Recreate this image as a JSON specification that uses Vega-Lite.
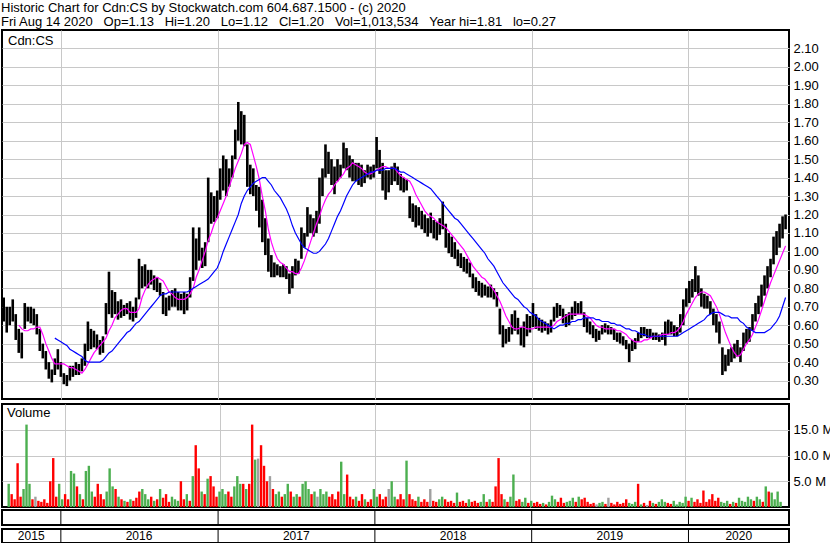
{
"$schema":"https://vega.github.io/schema/vega-lite/v6.json",
"background":"white",
"padding":{"left":1,"top":2,"right":0,"bottom":0},
"title":{"text":["Historic Chart for Cdn:CS by Stockwatch.com 604.687.1500 - (c) 2020","Fri Aug 14 2020\u00a0\u00a0\u00a0Op=1.13\u00a0\u00a0\u00a0Hi=1.20\u00a0\u00a0\u00a0Lo=1.12\u00a0\u00a0\u00a0Cl=1.20\u00a0\u00a0\u00a0Vol=1,013,534\u00a0\u00a0\u00a0Year hi=1.81\u00a0\u00a0\u00a0lo=0.27"],"anchor":"start","font":"Liberation Sans","fontSize":13,"fontWeight":"normal","color":"black","lineHeight":14,"offset":0,"frame":"bounds"},
"datasets":{
"yb":[{"d":"2016-01-01"},{"d":"2017-01-01"},{"d":"2018-01-01"},{"d":"2019-01-01"},{"d":"2020-01-01"}],
"yl":[{"d":"2015-10-24","t":"2015"},{"d":"2016-07-01","t":"2016"},{"d":"2017-07-02","t":"2017"},{"d":"2018-07-02","t":"2018"},{"d":"2019-07-02","t":"2019"},{"d":"2020-04-27","t":"2020"}],
"p":[
{"d":"2015-08-21","h":0.75,"l":0.62,"v":4.5,"s":"u"},
{"d":"2015-08-28","h":0.70,"l":0.56,"v":2.5,"s":"d"},
{"d":"2015-09-04","h":0.70,"l":0.60,"v":1.5,"s":"d"},
{"d":"2015-09-11","h":0.74,"l":0.62,"v":8.5,"s":"d"},
{"d":"2015-09-18","h":0.66,"l":0.52,"v":2.0,"s":"d"},
{"d":"2015-09-25","h":0.58,"l":0.45,"v":3.5,"s":"u","m1":0.60},
{"d":"2015-10-02","h":0.56,"l":0.42,"v":16,"s":"u","m1":0.58},
{"d":"2015-10-09","h":0.72,"l":0.58,"v":4.5,"s":"u","m1":0.57},
{"d":"2015-10-16","h":0.70,"l":0.62,"v":1.5,"s":"d","m1":0.57},
{"d":"2015-10-23","h":0.70,"l":0.61,"v":2.0,"s":"n","m1":0.58},
{"d":"2015-10-30","h":0.69,"l":0.60,"v":1.2,"s":"d","m1":0.58},
{"d":"2015-11-06","h":0.66,"l":0.55,"v":1.0,"s":"d","m1":0.59},
{"d":"2015-11-13","h":0.58,"l":0.46,"v":1.5,"s":"d","m1":0.59},
{"d":"2015-11-20","h":0.50,"l":0.42,"v":0.8,"s":"d","m1":0.55},
{"d":"2015-11-27","h":0.46,"l":0.36,"v":5.0,"s":"d","m1":0.50},
{"d":"2015-12-04","h":0.40,"l":0.31,"v":9.5,"s":"d","m1":0.46},
{"d":"2015-12-11","h":0.36,"l":0.29,"v":2.0,"s":"d","m1":0.42},
{"d":"2015-12-18","h":0.42,"l":0.33,"v":4.5,"s":"u","m1":0.39,"m2":0.53},
{"d":"2015-12-25","h":0.47,"l":0.36,"v":1.5,"s":"u","m1":0.39,"m2":0.52},
{"d":"2016-01-01","h":0.40,"l":0.32,"v":2.5,"s":"d","m1":0.39,"m2":0.51},
{"d":"2016-01-08","h":0.34,"l":0.28,"v":1.5,"s":"d","m1":0.39,"m2":0.50},
{"d":"2016-01-15","h":0.33,"l":0.27,"v":7.0,"s":"u","m1":0.38,"m2":0.49},
{"d":"2016-01-22","h":0.38,"l":0.30,"v":6.5,"s":"u","m1":0.37,"m2":0.47},
{"d":"2016-01-29","h":0.38,"l":0.32,"v":4.0,"s":"d","m1":0.37,"m2":0.46},
{"d":"2016-02-05","h":0.40,"l":0.33,"v":2.5,"s":"u","m1":0.36,"m2":0.45},
{"d":"2016-02-12","h":0.39,"l":0.33,"v":1.5,"s":"d","m1":0.35,"m2":0.44},
{"d":"2016-02-19","h":0.42,"l":0.35,"v":7.0,"s":"u","m1":0.34,"m2":0.43},
{"d":"2016-02-26","h":0.50,"l":0.38,"v":8.0,"s":"u","m1":0.36,"m2":0.41},
{"d":"2016-03-04","h":0.62,"l":0.46,"v":3.0,"s":"u","m1":0.39,"m2":0.40},
{"d":"2016-03-11","h":0.58,"l":0.47,"v":2.0,"s":"d","m1":0.42,"m2":0.40},
{"d":"2016-03-18","h":0.57,"l":0.48,"v":4.5,"s":"d","m1":0.45,"m2":0.40},
{"d":"2016-03-25","h":0.55,"l":0.47,"v":2.5,"s":"d","m1":0.47,"m2":0.40},
{"d":"2016-04-01","h":0.52,"l":0.44,"v":1.5,"s":"d","m1":0.49,"m2":0.40},
{"d":"2016-04-08","h":0.54,"l":0.45,"v":3.0,"s":"u","m1":0.51,"m2":0.41},
{"d":"2016-04-15","h":0.72,"l":0.55,"v":7.5,"s":"u","m1":0.53,"m2":0.43},
{"d":"2016-04-22","h":0.89,"l":0.66,"v":4.0,"s":"u","m1":0.57,"m2":0.45},
{"d":"2016-04-29","h":0.79,"l":0.64,"v":3.5,"s":"d","m1":0.60,"m2":0.46},
{"d":"2016-05-06","h":0.78,"l":0.66,"v":2.0,"s":"u","m1":0.64,"m2":0.48},
{"d":"2016-05-13","h":0.73,"l":0.63,"v":1.5,"s":"d","m1":0.66,"m2":0.50},
{"d":"2016-05-20","h":0.74,"l":0.64,"v":1.2,"s":"u","m1":0.68,"m2":0.52},
{"d":"2016-05-27","h":0.71,"l":0.65,"v":1.0,"s":"d","m1":0.69,"m2":0.54},
{"d":"2016-06-03","h":0.72,"l":0.66,"v":1.5,"s":"u","m1":0.69,"m2":0.56},
{"d":"2016-06-10","h":0.73,"l":0.63,"v":1.2,"s":"d","m1":0.67,"m2":0.57},
{"d":"2016-06-17","h":0.70,"l":0.62,"v":1.8,"s":"d","m1":0.67,"m2":0.59},
{"d":"2016-06-24","h":0.75,"l":0.64,"v":3.0,"s":"d","m1":0.67,"m2":0.61},
{"d":"2016-07-01","h":0.96,"l":0.74,"v":3.5,"s":"u","m1":0.69,"m2":0.62},
{"d":"2016-07-08","h":0.92,"l":0.80,"v":2.5,"s":"u","m1":0.75,"m2":0.64},
{"d":"2016-07-15","h":0.93,"l":0.81,"v":1.5,"s":"u","m1":0.79,"m2":0.66},
{"d":"2016-07-22","h":0.90,"l":0.80,"v":2.0,"s":"d","m1":0.82,"m2":0.68},
{"d":"2016-07-29","h":0.90,"l":0.82,"v":1.2,"s":"u","m1":0.84,"m2":0.70},
{"d":"2016-08-05","h":0.87,"l":0.79,"v":1.5,"s":"d","m1":0.85,"m2":0.72},
{"d":"2016-08-12","h":0.86,"l":0.78,"v":3.5,"s":"u","m1":0.86,"m2":0.74},
{"d":"2016-08-19","h":0.83,"l":0.76,"v":1.8,"s":"d","m1":0.85,"m2":0.76},
{"d":"2016-08-26","h":0.78,"l":0.66,"v":2.5,"s":"d","m1":0.84,"m2":0.77},
{"d":"2016-09-02","h":0.75,"l":0.65,"v":1.0,"s":"d","m1":0.81,"m2":0.77},
{"d":"2016-09-09","h":0.76,"l":0.68,"v":2.0,"s":"u","m1":0.78,"m2":0.78},
{"d":"2016-09-16","h":0.79,"l":0.70,"v":1.5,"s":"u","m1":0.77,"m2":0.78},
{"d":"2016-09-23","h":0.80,"l":0.70,"v":1.2,"s":"u","m1":0.75,"m2":0.78},
{"d":"2016-09-30","h":0.78,"l":0.68,"v":5.0,"s":"d","m1":0.74,"m2":0.78},
{"d":"2016-10-07","h":0.77,"l":0.68,"v":1.5,"s":"d","m1":0.74,"m2":0.78},
{"d":"2016-10-14","h":0.78,"l":0.66,"v":2.5,"s":"u","m1":0.74,"m2":0.78},
{"d":"2016-10-21","h":0.77,"l":0.68,"v":1.2,"s":"d","m1":0.75,"m2":0.78},
{"d":"2016-10-28","h":0.86,"l":0.75,"v":6.0,"s":"u","m1":0.77,"m2":0.79},
{"d":"2016-11-04","h":1.13,"l":0.84,"v":12,"s":"d","m1":0.80,"m2":0.80},
{"d":"2016-11-11","h":1.07,"l":0.90,"v":7.5,"s":"d","m1":0.86,"m2":0.81},
{"d":"2016-11-18","h":1.13,"l":0.95,"v":3.0,"s":"u","m1":0.90,"m2":0.82},
{"d":"2016-11-25","h":1.02,"l":0.91,"v":2.5,"s":"d","m1":0.95,"m2":0.83},
{"d":"2016-12-02","h":1.05,"l":0.92,"v":5.5,"s":"u","m1":1.00,"m2":0.84},
{"d":"2016-12-09","h":1.40,"l":1.05,"v":6.0,"s":"d","m1":1.06,"m2":0.85},
{"d":"2016-12-16","h":1.32,"l":1.15,"v":4.0,"s":"d","m1":1.10,"m2":0.87},
{"d":"2016-12-23","h":1.30,"l":1.16,"v":2.0,"s":"d","m1":1.15,"m2":0.89},
{"d":"2016-12-30","h":1.33,"l":1.18,"v":3.0,"s":"u","m1":1.18,"m2":0.91},
{"d":"2017-01-06","h":1.45,"l":1.28,"v":3.5,"s":"u","m1":1.22,"m2":0.95},
{"d":"2017-01-13","h":1.52,"l":1.33,"v":2.5,"s":"u","m1":1.26,"m2":1.00},
{"d":"2017-01-20","h":1.50,"l":1.30,"v":3.0,"s":"d","m1":1.30,"m2":1.04},
{"d":"2017-01-27","h":1.45,"l":1.35,"v":2.0,"s":"d","m1":1.35,"m2":1.08},
{"d":"2017-02-03","h":1.52,"l":1.40,"v":4.0,"s":"u","m1":1.40,"m2":1.12},
{"d":"2017-02-10","h":1.66,"l":1.50,"v":6.0,"s":"u","m1":1.45,"m2":1.16},
{"d":"2017-02-17","h":1.81,"l":1.60,"v":4.5,"s":"u","m1":1.49,"m2":1.20},
{"d":"2017-02-24","h":1.76,"l":1.58,"v":4.5,"s":"d","m1":1.53,"m2":1.26},
{"d":"2017-03-03","h":1.74,"l":1.57,"v":3.5,"s":"u","m1":1.58,"m2":1.30},
{"d":"2017-03-10","h":1.58,"l":1.35,"v":4.5,"s":"d","m1":1.59,"m2":1.33},
{"d":"2017-03-17","h":1.47,"l":1.31,"v":16,"s":"d","m1":1.58,"m2":1.35},
{"d":"2017-03-24","h":1.45,"l":1.30,"v":9.2,"s":"u","m1":1.52,"m2":1.37},
{"d":"2017-03-31","h":1.36,"l":1.22,"v":9.4,"s":"n","m1":1.46,"m2":1.38},
{"d":"2017-04-07","h":1.35,"l":1.13,"v":12,"s":"d","m1":1.39,"m2":1.39},
{"d":"2017-04-14","h":1.28,"l":1.05,"v":8.0,"s":"d","m1":1.30,"m2":1.40},
{"d":"2017-04-21","h":1.18,"l":0.98,"v":5.0,"s":"d","m1":1.22,"m2":1.40},
{"d":"2017-04-28","h":1.07,"l":0.89,"v":6.0,"s":"n","m1":1.12,"m2":1.38},
{"d":"2017-05-05","h":0.98,"l":0.86,"v":3.5,"s":"d","m1":1.05,"m2":1.36},
{"d":"2017-05-12","h":0.94,"l":0.86,"v":2.5,"s":"u","m1":1.00,"m2":1.33},
{"d":"2017-05-19","h":0.93,"l":0.87,"v":3.0,"s":"u","m1":0.96,"m2":1.31},
{"d":"2017-05-26","h":0.92,"l":0.86,"v":2.0,"s":"d","m1":0.94,"m2":1.29},
{"d":"2017-06-02","h":0.93,"l":0.86,"v":2.5,"s":"u","m1":0.93,"m2":1.26},
{"d":"2017-06-09","h":0.92,"l":0.85,"v":4.5,"s":"u","m1":0.91,"m2":1.23},
{"d":"2017-06-16","h":0.88,"l":0.77,"v":3.0,"s":"d","m1":0.89,"m2":1.19},
{"d":"2017-06-23","h":0.92,"l":0.80,"v":2.0,"s":"u","m1":0.89,"m2":1.14},
{"d":"2017-06-30","h":0.96,"l":0.87,"v":2.5,"s":"u","m1":0.88,"m2":1.10},
{"d":"2017-07-07","h":0.95,"l":0.88,"v":2.0,"s":"d","m1":0.88,"m2":1.07},
{"d":"2017-07-14","h":1.13,"l":0.96,"v":4.5,"s":"u","m1":0.91,"m2":1.04},
{"d":"2017-07-21","h":1.10,"l":1.02,"v":5.0,"s":"u","m1":0.95,"m2":1.02},
{"d":"2017-07-28","h":1.24,"l":1.08,"v":3.5,"s":"u","m1":1.00,"m2":1.01},
{"d":"2017-08-04","h":1.20,"l":1.10,"v":2.5,"s":"d","m1":1.05,"m2":1.00},
{"d":"2017-08-11","h":1.18,"l":1.08,"v":3.0,"s":"u","m1":1.10,"m2":0.99},
{"d":"2017-08-18","h":1.22,"l":1.10,"v":2.0,"s":"n","m1":1.15,"m2":0.99},
{"d":"2017-08-25","h":1.40,"l":1.15,"v":3.5,"s":"u","m1":1.19,"m2":1.00},
{"d":"2017-09-01","h":1.45,"l":1.30,"v":2.5,"s":"u","m1":1.24,"m2":1.02},
{"d":"2017-09-08","h":1.58,"l":1.40,"v":3.0,"s":"u","m1":1.28,"m2":1.04},
{"d":"2017-09-15","h":1.54,"l":1.42,"v":2.0,"s":"d","m1":1.31,"m2":1.07},
{"d":"2017-09-22","h":1.50,"l":1.36,"v":2.5,"s":"d","m1":1.33,"m2":1.11},
{"d":"2017-09-29","h":1.46,"l":1.31,"v":1.5,"s":"d","m1":1.36,"m2":1.15},
{"d":"2017-10-06","h":1.50,"l":1.38,"v":3.0,"s":"d","m1":1.38,"m2":1.19},
{"d":"2017-10-13","h":1.47,"l":1.40,"v":8.8,"s":"u","m1":1.40,"m2":1.22},
{"d":"2017-10-20","h":1.59,"l":1.45,"v":2.5,"s":"u","m1":1.42,"m2":1.26},
{"d":"2017-10-27","h":1.56,"l":1.44,"v":6.3,"s":"d","m1":1.45,"m2":1.30},
{"d":"2017-11-03","h":1.52,"l":1.40,"v":2.0,"s":"d","m1":1.46,"m2":1.33},
{"d":"2017-11-10","h":1.50,"l":1.38,"v":1.5,"s":"d","m1":1.48,"m2":1.36},
{"d":"2017-11-17","h":1.48,"l":1.38,"v":2.0,"s":"u","m1":1.47,"m2":1.38},
{"d":"2017-11-24","h":1.48,"l":1.36,"v":1.2,"s":"d","m1":1.46,"m2":1.39},
{"d":"2017-12-01","h":1.47,"l":1.35,"v":2.5,"s":"d","m1":1.45,"m2":1.40},
{"d":"2017-12-08","h":1.44,"l":1.37,"v":1.5,"s":"u","m1":1.43,"m2":1.41},
{"d":"2017-12-15","h":1.47,"l":1.40,"v":1.0,"s":"d","m1":1.42,"m2":1.42},
{"d":"2017-12-22","h":1.46,"l":1.39,"v":1.5,"s":"d","m1":1.42,"m2":1.43},
{"d":"2017-12-29","h":1.47,"l":1.40,"v":3.5,"s":"u","m1":1.43,"m2":1.43},
{"d":"2018-01-05","h":1.62,"l":1.45,"v":2.0,"s":"u","m1":1.44,"m2":1.44},
{"d":"2018-01-12","h":1.55,"l":1.42,"v":2.5,"s":"d","m1":1.45,"m2":1.44},
{"d":"2018-01-19","h":1.48,"l":1.33,"v":1.5,"s":"d","m1":1.46,"m2":1.44},
{"d":"2018-01-26","h":1.44,"l":1.28,"v":2.0,"s":"d","m1":1.46,"m2":1.45},
{"d":"2018-02-02","h":1.44,"l":1.32,"v":3.5,"s":"n","m1":1.45,"m2":1.45},
{"d":"2018-02-09","h":1.46,"l":1.36,"v":5.0,"s":"u","m1":1.45,"m2":1.45},
{"d":"2018-02-16","h":1.48,"l":1.38,"v":2.0,"s":"u","m1":1.45,"m2":1.45},
{"d":"2018-02-23","h":1.46,"l":1.36,"v":1.5,"s":"d","m1":1.43,"m2":1.44},
{"d":"2018-03-02","h":1.42,"l":1.33,"v":2.5,"s":"d","m1":1.41,"m2":1.43},
{"d":"2018-03-09","h":1.40,"l":1.32,"v":1.5,"s":"d","m1":1.40,"m2":1.43},
{"d":"2018-03-16","h":1.39,"l":1.33,"v":9.0,"s":"u","m1":1.39,"m2":1.42},
{"d":"2018-03-23","h":1.30,"l":1.18,"v":2.5,"s":"d","m1":1.38,"m2":1.41},
{"d":"2018-03-30","h":1.26,"l":1.16,"v":1.5,"s":"d","m1":1.35,"m2":1.40},
{"d":"2018-04-06","h":1.25,"l":1.13,"v":1.2,"s":"d","m1":1.31,"m2":1.39},
{"d":"2018-04-13","h":1.24,"l":1.14,"v":2.0,"s":"u","m1":1.28,"m2":1.38},
{"d":"2018-04-20","h":1.22,"l":1.12,"v":1.0,"s":"d","m1":1.25,"m2":1.37},
{"d":"2018-04-27","h":1.20,"l":1.10,"v":1.5,"s":"d","m1":1.22,"m2":1.36},
{"d":"2018-05-04","h":1.18,"l":1.08,"v":1.0,"s":"d","m1":1.20,"m2":1.35},
{"d":"2018-05-11","h":1.21,"l":1.10,"v":3.5,"s":"n","m1":1.19,"m2":1.34},
{"d":"2018-05-18","h":1.17,"l":1.07,"v":1.2,"s":"d","m1":1.18,"m2":1.32},
{"d":"2018-05-25","h":1.16,"l":1.06,"v":1.0,"s":"d","m1":1.16,"m2":1.30},
{"d":"2018-06-01","h":1.18,"l":1.09,"v":1.5,"s":"u","m1":1.15,"m2":1.28},
{"d":"2018-06-08","h":1.27,"l":1.12,"v":2.0,"s":"u","m1":1.14,"m2":1.26},
{"d":"2018-06-15","h":1.15,"l":1.02,"v":1.5,"s":"d","m1":1.13,"m2":1.24},
{"d":"2018-06-22","h":1.10,"l":0.99,"v":1.0,"s":"d","m1":1.11,"m2":1.22},
{"d":"2018-06-29","h":1.08,"l":0.97,"v":1.2,"s":"d","m1":1.09,"m2":1.20},
{"d":"2018-07-06","h":1.05,"l":0.96,"v":0.8,"s":"d","m1":1.07,"m2":1.18},
{"d":"2018-07-13","h":1.01,"l":0.92,"v":2.8,"s":"u","m1":1.05,"m2":1.17},
{"d":"2018-07-20","h":0.99,"l":0.91,"v":1.0,"s":"d","m1":1.03,"m2":1.15},
{"d":"2018-07-27","h":0.97,"l":0.89,"v":1.2,"s":"d","m1":1.01,"m2":1.13},
{"d":"2018-08-03","h":0.96,"l":0.88,"v":0.8,"s":"d","m1":0.98,"m2":1.11},
{"d":"2018-08-10","h":0.94,"l":0.86,"v":1.5,"s":"u","m1":0.95,"m2":1.09},
{"d":"2018-08-17","h":0.88,"l":0.80,"v":1.0,"s":"d","m1":0.92,"m2":1.07},
{"d":"2018-08-24","h":0.86,"l":0.78,"v":1.2,"s":"d","m1":0.90,"m2":1.05},
{"d":"2018-08-31","h":0.84,"l":0.76,"v":0.8,"s":"d","m1":0.88,"m2":1.03},
{"d":"2018-09-07","h":0.83,"l":0.75,"v":1.0,"s":"u","m1":0.86,"m2":1.01},
{"d":"2018-09-14","h":0.82,"l":0.76,"v":2.5,"s":"u","m1":0.85,"m2":0.99},
{"d":"2018-09-21","h":0.81,"l":0.75,"v":1.0,"s":"d","m1":0.83,"m2":0.96},
{"d":"2018-09-28","h":0.82,"l":0.75,"v":1.5,"s":"u","m1":0.81,"m2":0.94},
{"d":"2018-10-05","h":0.80,"l":0.74,"v":1.0,"s":"d","m1":0.79,"m2":0.92},
{"d":"2018-10-12","h":0.78,"l":0.70,"v":4.0,"s":"d","m1":0.76,"m2":0.89},
{"d":"2018-10-19","h":0.69,"l":0.55,"v":9.5,"s":"d","m1":0.73,"m2":0.86},
{"d":"2018-10-26","h":0.60,"l":0.48,"v":2.5,"s":"d","m1":0.69,"m2":0.83},
{"d":"2018-11-02","h":0.58,"l":0.50,"v":1.5,"s":"u","m1":0.65,"m2":0.81},
{"d":"2018-11-09","h":0.59,"l":0.51,"v":1.0,"s":"d","m1":0.62,"m2":0.79},
{"d":"2018-11-16","h":0.66,"l":0.55,"v":2.0,"s":"u","m1":0.59,"m2":0.77},
{"d":"2018-11-23","h":0.68,"l":0.57,"v":6.3,"s":"u","m1":0.58,"m2":0.75},
{"d":"2018-11-30","h":0.64,"l":0.55,"v":1.2,"s":"d","m1":0.58,"m2":0.74},
{"d":"2018-12-07","h":0.59,"l":0.49,"v":1.5,"s":"d","m1":0.59,"m2":0.72},
{"d":"2018-12-14","h":0.62,"l":0.48,"v":1.0,"s":"u","m1":0.59,"m2":0.70},
{"d":"2018-12-21","h":0.66,"l":0.54,"v":1.8,"s":"u","m1":0.58,"m2":0.69},
{"d":"2018-12-28","h":0.65,"l":0.56,"v":0.8,"s":"d","m1":0.58,"m2":0.67},
{"d":"2019-01-04","h":0.72,"l":0.59,"v":1.2,"s":"u","m1":0.58,"m2":0.66},
{"d":"2019-01-11","h":0.66,"l":0.58,"v":0.8,"s":"d","m1":0.59,"m2":0.65},
{"d":"2019-01-18","h":0.64,"l":0.57,"v":1.0,"s":"d","m1":0.59,"m2":0.63},
{"d":"2019-01-25","h":0.63,"l":0.56,"v":0.6,"s":"d","m1":0.59,"m2":0.62},
{"d":"2019-02-01","h":0.62,"l":0.57,"v":0.8,"s":"u","m1":0.59,"m2":0.61},
{"d":"2019-02-08","h":0.61,"l":0.55,"v":0.5,"s":"d","m1":0.59,"m2":0.60},
{"d":"2019-02-15","h":0.63,"l":0.56,"v":1.0,"s":"u","m1":0.59,"m2":0.59},
{"d":"2019-02-22","h":0.70,"l":0.62,"v":2.2,"s":"u","m1":0.60,"m2":0.58},
{"d":"2019-03-01","h":0.72,"l":0.64,"v":1.5,"s":"u","m1":0.62,"m2":0.59},
{"d":"2019-03-08","h":0.71,"l":0.65,"v":1.0,"s":"d","m1":0.63,"m2":0.60},
{"d":"2019-03-15","h":0.69,"l":0.61,"v":1.8,"s":"d","m1":0.64,"m2":0.60},
{"d":"2019-03-22","h":0.66,"l":0.59,"v":0.8,"s":"d","m1":0.65,"m2":0.61},
{"d":"2019-03-29","h":0.67,"l":0.60,"v":1.0,"s":"u","m1":0.66,"m2":0.61},
{"d":"2019-04-05","h":0.70,"l":0.63,"v":1.2,"s":"u","m1":0.66,"m2":0.62},
{"d":"2019-04-12","h":0.73,"l":0.65,"v":1.8,"s":"u","m1":0.66,"m2":0.62},
{"d":"2019-04-19","h":0.72,"l":0.66,"v":1.0,"s":"d","m1":0.66,"m2":0.63},
{"d":"2019-04-26","h":0.73,"l":0.66,"v":2.0,"s":"u","m1":0.66,"m2":0.63},
{"d":"2019-05-03","h":0.67,"l":0.59,"v":1.5,"s":"d","m1":0.66,"m2":0.64},
{"d":"2019-05-10","h":0.64,"l":0.56,"v":1.8,"s":"d","m1":0.65,"m2":0.64},
{"d":"2019-05-17","h":0.62,"l":0.55,"v":1.0,"s":"d","m1":0.64,"m2":0.64},
{"d":"2019-05-24","h":0.60,"l":0.53,"v":0.6,"s":"d","m1":0.62,"m2":0.64},
{"d":"2019-05-31","h":0.58,"l":0.51,"v":0.8,"s":"d","m1":0.60,"m2":0.63},
{"d":"2019-06-07","h":0.57,"l":0.52,"v":0.5,"s":"n","m1":0.59,"m2":0.63},
{"d":"2019-06-14","h":0.60,"l":0.55,"v":0.8,"s":"u","m1":0.59,"m2":0.62},
{"d":"2019-06-21","h":0.61,"l":0.56,"v":1.0,"s":"u","m1":0.58,"m2":0.62},
{"d":"2019-06-28","h":0.60,"l":0.55,"v":0.6,"s":"d","m1":0.58,"m2":0.62},
{"d":"2019-07-05","h":0.59,"l":0.55,"v":1.8,"s":"n","m1":0.58,"m2":0.61},
{"d":"2019-07-12","h":0.58,"l":0.52,"v":0.8,"s":"d","m1":0.58,"m2":0.61},
{"d":"2019-07-19","h":0.56,"l":0.51,"v":0.5,"s":"d","m1":0.57,"m2":0.60},
{"d":"2019-07-26","h":0.56,"l":0.50,"v":1.0,"s":"d","m1":0.57,"m2":0.60},
{"d":"2019-08-02","h":0.54,"l":0.49,"v":0.6,"s":"d","m1":0.56,"m2":0.59},
{"d":"2019-08-09","h":0.52,"l":0.47,"v":0.8,"s":"d","m1":0.55,"m2":0.58},
{"d":"2019-08-16","h":0.50,"l":0.40,"v":1.5,"s":"d","m1":0.53,"m2":0.58},
{"d":"2019-08-23","h":0.52,"l":0.46,"v":0.8,"s":"u","m1":0.52,"m2":0.57},
{"d":"2019-08-30","h":0.53,"l":0.47,"v":0.6,"s":"u","m1":0.51,"m2":0.57},
{"d":"2019-09-06","h":0.56,"l":0.51,"v":1.0,"s":"u","m1":0.51,"m2":0.56},
{"d":"2019-09-13","h":0.59,"l":0.53,"v":4.5,"s":"d","m1":0.51,"m2":0.55},
{"d":"2019-09-20","h":0.59,"l":0.54,"v":0.5,"s":"u","m1":0.52,"m2":0.55},
{"d":"2019-09-27","h":0.58,"l":0.53,"v":0.8,"s":"d","m1":0.52,"m2":0.54},
{"d":"2019-10-04","h":0.58,"l":0.53,"v":0.4,"s":"n","m1":0.53,"m2":0.54},
{"d":"2019-10-11","h":0.56,"l":0.52,"v":1.2,"s":"d","m1":0.54,"m2":0.54},
{"d":"2019-10-18","h":0.56,"l":0.52,"v":0.8,"s":"u","m1":0.54,"m2":0.54},
{"d":"2019-10-25","h":0.55,"l":0.51,"v":0.6,"s":"d","m1":0.54,"m2":0.54},
{"d":"2019-11-01","h":0.56,"l":0.52,"v":1.0,"s":"u","m1":0.55,"m2":0.54},
{"d":"2019-11-08","h":0.62,"l":0.49,"v":1.5,"s":"u","m1":0.55,"m2":0.54},
{"d":"2019-11-15","h":0.63,"l":0.55,"v":1.0,"s":"u","m1":0.55,"m2":0.54},
{"d":"2019-11-22","h":0.62,"l":0.55,"v":0.8,"s":"d","m1":0.56,"m2":0.54},
{"d":"2019-11-29","h":0.60,"l":0.54,"v":0.6,"s":"d","m1":0.56,"m2":0.54},
{"d":"2019-12-06","h":0.59,"l":0.54,"v":1.2,"s":"u","m1":0.57,"m2":0.54},
{"d":"2019-12-13","h":0.66,"l":0.56,"v":0.5,"s":"u","m1":0.59,"m2":0.55},
{"d":"2019-12-20","h":0.74,"l":0.60,"v":1.0,"s":"u","m1":0.62,"m2":0.56},
{"d":"2019-12-27","h":0.80,"l":0.70,"v":0.8,"s":"u","m1":0.66,"m2":0.57},
{"d":"2020-01-03","h":0.84,"l":0.72,"v":2.0,"s":"u","m1":0.69,"m2":0.58},
{"d":"2020-01-10","h":0.85,"l":0.75,"v":1.2,"s":"d","m1":0.72,"m2":0.59},
{"d":"2020-01-17","h":0.92,"l":0.78,"v":1.8,"s":"u","m1":0.75,"m2":0.60},
{"d":"2020-01-24","h":0.87,"l":0.76,"v":1.0,"s":"d","m1":0.77,"m2":0.61},
{"d":"2020-01-31","h":0.80,"l":0.70,"v":1.5,"s":"d","m1":0.78,"m2":0.62},
{"d":"2020-02-07","h":0.77,"l":0.69,"v":0.8,"s":"d","m1":0.78,"m2":0.63},
{"d":"2020-02-14","h":0.76,"l":0.69,"v":3.2,"s":"d","m1":0.77,"m2":0.65},
{"d":"2020-02-21","h":0.73,"l":0.66,"v":1.0,"s":"d","m1":0.76,"m2":0.66},
{"d":"2020-02-28","h":0.69,"l":0.60,"v":1.5,"s":"d","m1":0.73,"m2":0.67},
{"d":"2020-03-06","h":0.66,"l":0.56,"v":2.5,"s":"d","m1":0.70,"m2":0.67},
{"d":"2020-03-13","h":0.62,"l":0.50,"v":1.2,"s":"d","m1":0.66,"m2":0.67},
{"d":"2020-03-20","h":0.48,"l":0.33,"v":1.8,"s":"d","m1":0.61,"m2":0.66},
{"d":"2020-03-27","h":0.44,"l":0.35,"v":1.0,"s":"u","m1":0.56,"m2":0.65},
{"d":"2020-04-03","h":0.47,"l":0.38,"v":0.8,"s":"u","m1":0.52,"m2":0.65},
{"d":"2020-04-10","h":0.48,"l":0.40,"v":1.2,"s":"u","m1":0.48,"m2":0.64},
{"d":"2020-04-17","h":0.50,"l":0.42,"v":0.6,"s":"d","m1":0.45,"m2":0.64},
{"d":"2020-04-24","h":0.52,"l":0.43,"v":1.0,"s":"u","m1":0.43,"m2":0.64},
{"d":"2020-05-01","h":0.48,"l":0.40,"v":0.8,"s":"d","m1":0.44,"m2":0.62},
{"d":"2020-05-08","h":0.56,"l":0.46,"v":1.8,"s":"u","m1":0.47,"m2":0.61},
{"d":"2020-05-15","h":0.58,"l":0.50,"v":1.2,"s":"u","m1":0.50,"m2":0.59},
{"d":"2020-05-22","h":0.59,"l":0.51,"v":1.0,"s":"u","m1":0.52,"m2":0.58},
{"d":"2020-05-29","h":0.66,"l":0.57,"v":2.0,"s":"u","m1":0.55,"m2":0.57},
{"d":"2020-06-05","h":0.72,"l":0.62,"v":1.5,"s":"u","m1":0.59,"m2":0.56},
{"d":"2020-06-12","h":0.76,"l":0.66,"v":1.2,"s":"d","m1":0.63,"m2":0.56},
{"d":"2020-06-19","h":0.82,"l":0.70,"v":2.0,"s":"u","m1":0.68,"m2":0.56},
{"d":"2020-06-26","h":0.87,"l":0.76,"v":1.5,"s":"u","m1":0.73,"m2":0.56},
{"d":"2020-07-03","h":0.92,"l":0.80,"v":1.0,"s":"d","m1":0.78,"m2":0.57},
{"d":"2020-07-10","h":0.96,"l":0.86,"v":4.0,"s":"u","m1":0.83,"m2":0.58},
{"d":"2020-07-17","h":1.08,"l":0.93,"v":3.0,"s":"d","m1":0.87,"m2":0.60},
{"d":"2020-07-24","h":1.11,"l":0.98,"v":2.8,"s":"u","m1":0.91,"m2":0.62},
{"d":"2020-07-31","h":1.15,"l":1.02,"v":1.5,"s":"u","m1":0.95,"m2":0.65},
{"d":"2020-08-07","h":1.19,"l":1.07,"v":3.0,"s":"u","m1":0.99,"m2":0.70},
{"d":"2020-08-14","h":1.20,"l":1.12,"v":1.0,"s":"u","m1":1.03,"m2":0.75}
]},
"spacing":3,
"config":{
"view":{"stroke":"black","strokeWidth":2},
"font":"Liberation Sans",
"axis":{"labelFont":"Liberation Sans","labelFontSize":13,"labelColor":"black","gridColor":"#c8c8c8","gridWidth":1,"ticks":false,"domain":false,"title":null,"labelOverlap":false,"labelBound":false}
},
"vconcat":[
{
"width":787,"height":369,
"title":{"text":"Cdn:CS","anchor":"start","orient":"top","offset":-18,"dx":6,"fontSize":13,"fontWeight":"normal","font":"Liberation Sans","color":"black"},
"data":{"name":"p"},
"encoding":{"x":{"field":"d","type":"temporal","scale":{"domain":[{"year":2015,"month":8,"date":17},{"year":2020,"month":8,"date":22}]},"axis":{"values":[{"year":2016,"month":1,"date":1},{"year":2017,"month":1,"date":1},{"year":2018,"month":1,"date":1},{"year":2019,"month":1,"date":1},{"year":2020,"month":1,"date":1}],"grid":true,"labels":false}}},
"layer":[
{"mark":{"type":"rule","color":"black","strokeWidth":2.6},
"encoding":{"y":{"field":"l","type":"quantitative","scale":{"domain":[0.2,2.2],"nice":false,"zero":false},"axis":{"orient":"right","values":[0.3,0.4,0.5,0.6,0.7,0.8,0.9,1.0,1.1,1.2,1.3,1.4,1.5,1.6,1.7,1.8,1.9,2.0,2.1],"format":".2f","grid":true,"labelPadding":4,"labelOverlap":false,"tickCount":19}},"y2":{"field":"h"}}},
{"mark":{"type":"line","color":"#ff00ff","strokeWidth":1.2},"encoding":{"y":{"field":"m1","type":"quantitative"}}},
{"mark":{"type":"line","color":"#0000ff","strokeWidth":1.2},"encoding":{"y":{"field":"m2","type":"quantitative"}}}
]
},
{
"spacing":0,
"vconcat":[
{
"width":787,"height":103,
"title":{"text":"Volume","anchor":"start","orient":"top","offset":-16,"dx":5,"fontSize":13,"fontWeight":"normal","font":"Liberation Sans","color":"black"},
"data":{"name":"p"},
"mark":{"type":"bar","size":2.4},
"encoding":{
"x":{"field":"d","type":"temporal","scale":{"domain":[{"year":2015,"month":8,"date":17},{"year":2020,"month":8,"date":22}]},"axis":{"values":[{"year":2016,"month":1,"date":1},{"year":2017,"month":1,"date":1},{"year":2018,"month":1,"date":1},{"year":2019,"month":1,"date":1},{"year":2020,"month":1,"date":1}],"grid":true,"labels":false}},
"y":{"field":"v","type":"quantitative","scale":{"domain":[0,20],"nice":false},"axis":{"orient":"right","values":[5,10,15],"format":".1f","labelExpr":"datum.label + ' M'","grid":true,"labelPadding":4}},
"color":{"field":"s","type":"nominal","scale":{"domain":["u","d","n"],"range":["#4caf50","#ff0000","#a0a0a0"]},"legend":null}
}
},
{
"width":787,"height":15,
"data":{"name":"yb"},
"mark":{"type":"rule","color":"black","strokeWidth":1},
"encoding":{"x":{"field":"d","type":"temporal","scale":{"domain":[{"year":2015,"month":8,"date":17},{"year":2020,"month":8,"date":22}]},"axis":null}}
},
{
"width":787,"height":14,
"layer":[
{"data":{"name":"yb"},"mark":{"type":"rule","color":"black","strokeWidth":1},
"encoding":{"x":{"field":"d","type":"temporal","scale":{"domain":[{"year":2015,"month":8,"date":17},{"year":2020,"month":8,"date":22}]},"axis":null}}},
{"data":{"name":"yl"},"mark":{"type":"text","fontSize":12,"font":"Liberation Sans","color":"black","baseline":"middle","dy":0},
"encoding":{"x":{"field":"d","type":"temporal"},"text":{"field":"t"}}}
]
}
]
}
]
}
